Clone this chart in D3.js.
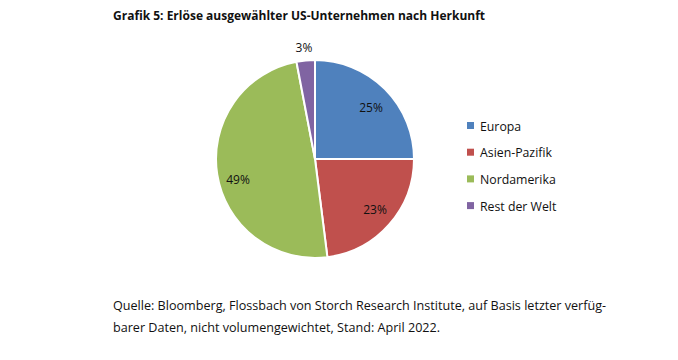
<!DOCTYPE html>
<html><head><meta charset="utf-8">
<script src="https://cdn.jsdelivr.net/npm/d3@7"></script>
<style>body{margin:0;background:#fff;} text{font-family:"Open Sans",sans-serif;}</style>
</head><body>
<svg id="c" width="678" height="360"></svg>
<script>
const categories = ["Europa","Asien-Pazifik","Nordamerika","Rest der Welt"];
const values = [25,23,49,3];
const colors = ["#4f81bd","#c0504d","#9bbb59","#8064a2"];
const title = "Grafik 5: Erlöse ausgewählter US-Unternehmen nach Herkunft";
const footer = ["Quelle: Bloomberg, Flossbach von Storch Research Institute, auf Basis letzter verfüg-","barer Daten, nicht volumengewichtet, Stand: April 2022."];

const svg = d3.select("#c");
svg.append("rect").attr("width",678).attr("height",360).attr("fill","#ffffff");
svg.append("text").attr("x",113).attr("y",20).attr("font-size",12).attr("font-weight","bold").attr("fill","#111").text(title);

const cx=315, cy=159, r=99;
const pie = d3.pie().sort(null).value(d=>d)(values);
const arc = d3.arc().innerRadius(0).outerRadius(r);
const g = svg.append("g").attr("transform",`translate(${cx},${cy})`);
g.selectAll("path").data(pie).join("path").attr("d",arc)
  .attr("fill",(d,i)=>colors[i]).attr("stroke","#fff").attr("stroke-width",2);
const labelPos = [[56,-47],[60,55],[-77,25],[-11,-107]];
g.selectAll("text.l").data(pie).join("text").attr("class","l")
  .attr("x",(d,i)=>labelPos[i][0]).attr("y",(d,i)=>labelPos[i][1])
  .attr("text-anchor","middle").attr("font-size",12).attr("fill","#111")
  .text(d=>d.data+"%");

const lg = svg.append("g");
categories.forEach((c,i)=>{
  const y = 126 + i*26.7;
  lg.append("rect").attr("x",467).attr("y",y-4).attr("width",7).attr("height",7).attr("fill",colors[i]);
  lg.append("text").attr("x",480).attr("y",y+4.5).attr("font-size",12.3).attr("fill","#111").text(c);
});
footer.forEach((t,i)=>{
  svg.append("text").attr("x",113).attr("y",310+i*22).attr("font-size",12.6).attr("fill","#111").text(t);
});
</script>
</body></html>
